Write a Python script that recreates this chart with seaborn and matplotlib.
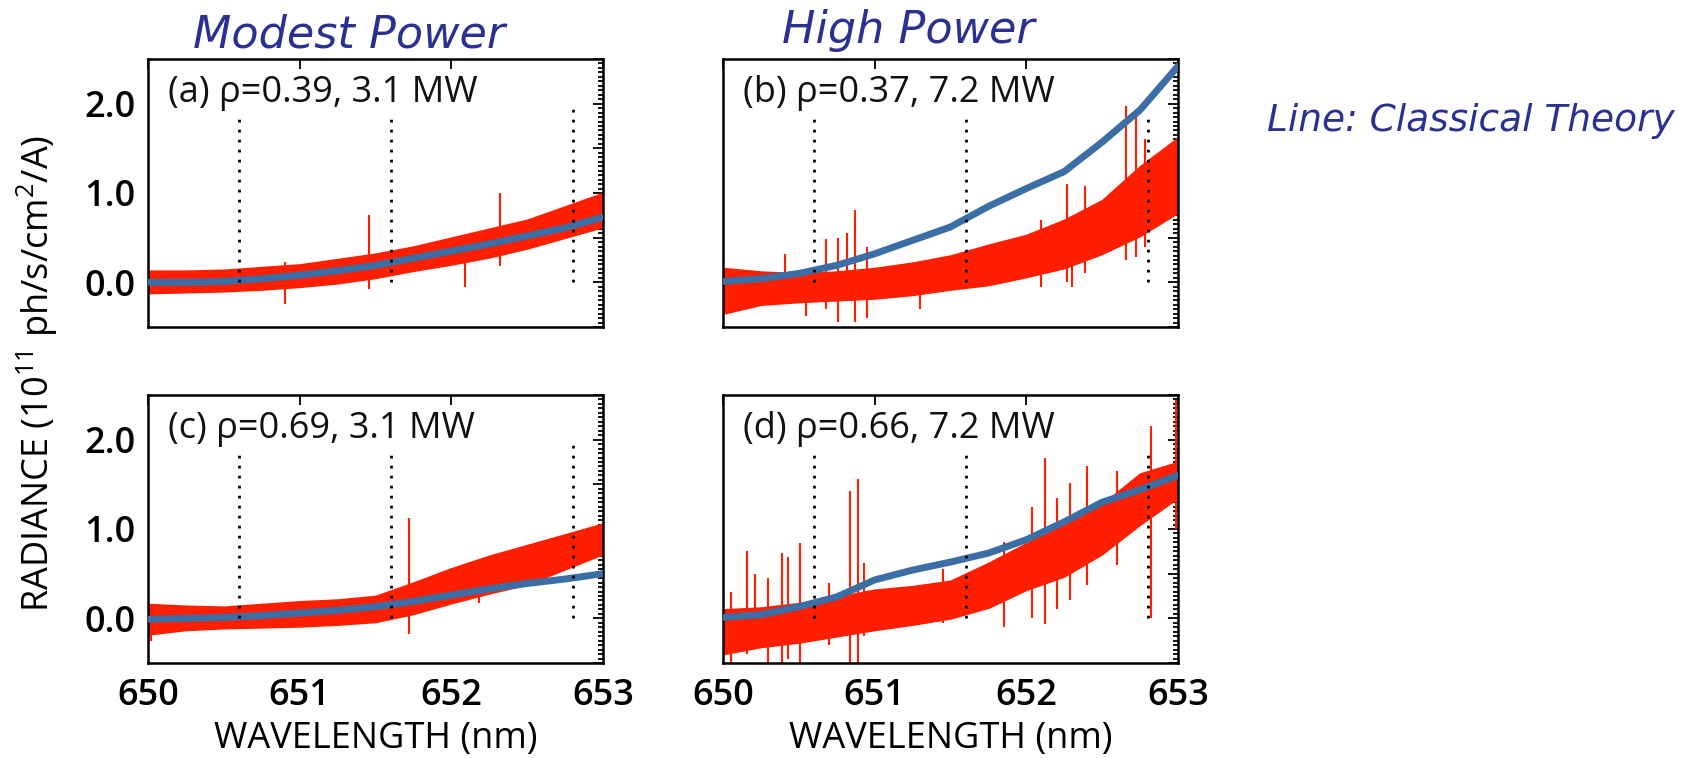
import numpy as np
import matplotlib
matplotlib.use("Agg")
import matplotlib.pyplot as plt
from matplotlib.ticker import FixedLocator, MultipleLocator, FuncFormatter, NullLocator
import seaborn as sns

# wavelength grid (nm) the curves are read on
wl_grid = [650.0, 650.25, 650.5, 650.75, 651.0, 651.25, 651.5,
           651.75, 652.0, 652.25, 652.5, 652.75, 653.0]

# classical theory (blue line), 1e11 ph/s/cm2/A
theory_a = [0.00, 0.00, 0.01, 0.04, 0.08, 0.13, 0.19, 0.27, 0.35, 0.43, 0.52, 0.61, 0.73]
theory_b = [0.01, 0.04, 0.10, 0.19, 0.32, 0.47, 0.62, 0.85, 1.05, 1.24, 1.57, 1.93, 2.42]
theory_c = [-0.01, 0.00, 0.01, 0.03, 0.06, 0.09, 0.13, 0.19, 0.26, 0.33, 0.39, 0.44, 0.50]
theory_d = [0.01, 0.04, 0.13, 0.24, 0.43, 0.54, 0.63, 0.73, 0.88, 1.08, 1.30, 1.44, 1.60]

# measured spectrum, lower / upper edge of the noise band
meas_lo_a = [-0.12, -0.11, -0.10, -0.08, -0.05, -0.01, 0.05, 0.13, 0.20, 0.28, 0.38, 0.50, 0.62]
meas_hi_a = [0.13, 0.13, 0.14, 0.17, 0.20, 0.26, 0.32, 0.40, 0.50, 0.60, 0.70, 0.85, 1.00]
meas_lo_b = [-0.35, -0.25, -0.22, -0.20, -0.18, -0.14, -0.08, -0.03, 0.06, 0.16, 0.32, 0.52, 0.78]
meas_hi_b = [0.16, 0.12, 0.10, 0.12, 0.16, 0.22, 0.30, 0.42, 0.53, 0.70, 0.92, 1.30, 1.62]
meas_lo_c = [-0.18, -0.13, -0.11, -0.10, -0.09, -0.07, -0.04, 0.05, 0.17, 0.28, 0.38, 0.55, 0.72]
meas_hi_c = [0.16, 0.14, 0.13, 0.16, 0.19, 0.21, 0.25, 0.40, 0.56, 0.70, 0.82, 0.94, 1.06]
meas_lo_d = [-0.40, -0.32, -0.27, -0.20, -0.13, -0.07, 0.00, 0.12, 0.32, 0.47, 0.72, 1.05, 1.35]
meas_hi_d = [0.10, 0.12, 0.17, 0.24, 0.32, 0.36, 0.42, 0.62, 0.84, 1.05, 1.28, 1.62, 1.75]

# spikes in the measured spectrum: position, bottom, top
spike_x_a = [650.90, 651.46, 652.09, 652.32]
spike_lo_a = [-0.24, -0.08, -0.05, 0.18]
spike_hi_a = [0.23, 0.75, 0.30, 1.00]

spike_x_b = [650.41, 650.55, 650.68, 650.76, 650.82, 650.87, 650.95, 651.30,
             652.10, 652.27, 652.30, 652.39, 652.66, 652.72, 652.78]
spike_lo_b = [-0.10, -0.38, -0.30, -0.44, -0.20, -0.44, -0.40, -0.30,
              -0.05, 0.00, -0.05, 0.10, 0.25, 0.28, 0.40]
spike_hi_b = [0.32, 0.15, 0.49, 0.50, 0.55, 0.81, 0.40, 0.20,
              0.70, 1.10, 0.60, 1.08, 1.97, 1.92, 1.60]

spike_x_c = [650.02, 651.72, 652.18]
spike_lo_c = [-0.25, -0.17, 0.17]
spike_hi_c = [0.15, 1.12, 0.47]

spike_x_d = [650.05, 650.16, 650.21, 650.30, 650.39, 650.43, 650.51, 650.70,
             650.84, 650.89, 650.93, 651.45, 651.85, 652.04, 652.12, 652.20,
             652.29, 652.40, 652.60, 652.82, 652.99]
spike_lo_d = [-0.50, -0.40, -0.30, -0.50, -0.50, -0.45, -0.50, -0.30,
              -0.50, -0.50, -0.20, -0.05, -0.10, 0.00, -0.06, 0.10,
              0.20, 0.37, 0.60, 0.00, 1.00]
spike_hi_d = [0.30, 0.75, 0.50, 0.45, 0.73, 0.69, 0.84, 0.40,
              1.42, 1.56, 0.62, 0.55, 0.85, 1.25, 1.79, 1.35,
              1.51, 1.70, 1.65, 2.15, 2.44]

# dotted reference wavelengths and their top ends
mark_wl = [650.6, 651.6, 652.8]
mark_top_left = [1.9, 1.9, 2.0]
mark_top_right = [1.9, 1.9, 1.9]

panel_labels = ["(a) \u03c1=0.39, 3.1 MW", "(b) \u03c1=0.37, 7.2 MW",
                "(c) \u03c1=0.69, 3.1 MW", "(d) \u03c1=0.66, 7.2 MW"]
column_titles = ["Modest Power", "High Power"]

RED = "#ff1e00"
BLUE = "#3b6ea5"
NAVY = "#2b3192"

sns.set_style("white")
plt.rcParams['font.family'] = ['Open Sans', 'DejaVu Sans']
plt.rcParams['mathtext.fontset'] = 'custom'
plt.rcParams['mathtext.rm'] = 'Open Sans'
plt.rcParams['mathtext.it'] = 'Open Sans:italic'
plt.rcParams['text.color'] = 'black'

fig = plt.figure(figsize=(16.94, 7.58), dpi=100)

W, H = 1694.0, 758.0
lefts = [148 / W, 723 / W]
bottoms = [(H - 327) / H, (H - 663) / H]
aw, ah = 455 / W, 268 / H

panels = [
    (theory_a, meas_lo_a, meas_hi_a, spike_x_a, spike_lo_a, spike_hi_a),
    (theory_b, meas_lo_b, meas_hi_b, spike_x_b, spike_lo_b, spike_hi_b),
    (theory_c, meas_lo_c, meas_hi_c, spike_x_c, spike_lo_c, spike_hi_c),
    (theory_d, meas_lo_d, meas_hi_d, spike_x_d, spike_lo_d, spike_hi_d),
]

for i, (theory, lo, hi, sx, slo, shi) in enumerate(panels):
    row, col = divmod(i, 2)
    ax = fig.add_axes([lefts[col], bottoms[row], aw, ah])

    ax.fill_between(wl_grid, lo, hi, color=RED, lw=1.2, edgecolor=RED, zorder=2)
    ax.vlines(sx, slo, shi, color=RED, lw=1.5, zorder=2)
    sns.lineplot(x=wl_grid, y=theory, ax=ax, color=BLUE, linewidth=5, zorder=3)

    tops = mark_top_left if col == 0 else mark_top_right
    for xm, yt in zip(mark_wl, tops):
        ax.plot([xm, xm], [0.0, yt], color="black", lw=2,
                linestyle=(0, (1, 2.6)), zorder=4)

    ax.set_xlim(650, 653)
    ax.set_ylim(-0.5, 2.5)

    ax.xaxis.set_major_locator(FixedLocator([650, 651, 652, 653]))
    ax.xaxis.set_minor_locator(NullLocator())
    ax.yaxis.set_major_locator(MultipleLocator(0.5))
    ax.yaxis.set_minor_locator(MultipleLocator(0.05))
    ax.yaxis.set_major_formatter(FuncFormatter(
        lambda v, p: f"{v:.1f}" if abs(v - round(v)) < 1e-6 else ""))
    ax.tick_params(which="both", direction="in", top=True, right=True,
                   color="black", width=1.3)
    ax.tick_params(which="major", length=7)
    ax.tick_params(which="minor", length=3.5)
    ax.tick_params(axis="y", labelsize=26, pad=9, labelcolor="black")
    ax.tick_params(axis="x", labelsize=26, pad=11, labelcolor="black")
    for s in ax.spines.values():
        s.set_color("black")
        s.set_linewidth(1.8)

    if row == 0:
        ax.set_xticklabels([])
    else:
        ax.set_xlabel("WAVELENGTH (nm)", fontsize=26, color="black")
        ax.xaxis.set_label_coords(0.5, -0.215)
    if col == 1:
        ax.set_yticklabels([])
    ax.set_ylabel("")
    plt.setp(ax.get_xticklabels() + ax.get_yticklabels(), fontweight="semibold")

    ax.text(0.045, 0.84, panel_labels[i], transform=ax.transAxes,
            fontsize=26, va="baseline", ha="left", color="#111111", zorder=5)

fig.text(349 / W, (H - 47) / H, column_titles[0], fontsize=32, style="italic",
         family=["DejaVu Sans"], color=NAVY, ha="center", va="baseline")
fig.text(908 / W, (H - 43) / H, column_titles[1], fontsize=32, style="italic",
         family=["DejaVu Sans"], color=NAVY, ha="center", va="baseline")
fig.text(1471 / W, (H - 131) / H, "Line: Classical Theory", fontsize=27,
         style="italic", family=["DejaVu Sans"], color=NAVY,
         ha="center", va="baseline")

fig.text(0.022, 0.508, "RADIANCE (10$^{11}$ ph/s/cm$^{2}$/A)", rotation=90,
         fontsize=26, ha="center", va="center")

fig.savefig("out.png", dpi=100)
